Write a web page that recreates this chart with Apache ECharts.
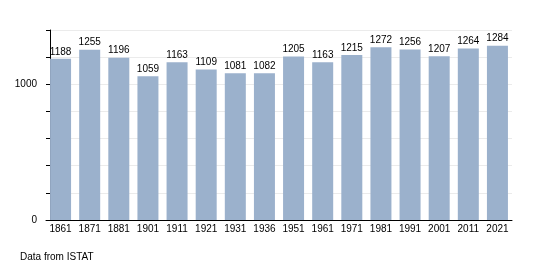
<!DOCTYPE html>
<html><head><meta charset="utf-8">
<script src="https://cdn.jsdelivr.net/npm/echarts@6/dist/echarts.min.js"></script>
<style>html,body{margin:0;padding:0;background:#fff}#c{width:540px;height:270px}</style>
</head><body><div id="c"></div>
<script>
const years = ['1861','1871','1881','1901','1911','1921','1931','1936','1951','1961','1971','1981','1991','2001','2011','2021'];
const population = [1188,1255,1196,1059,1163,1109,1081,1082,1205,1163,1215,1272,1256,1207,1264,1284];
const yLabels = [0, 1000];
const font = 'Liberation Sans, Arial, sans-serif';
const chart = echarts.init(document.getElementById('c'), null, {renderer:'canvas'});
chart.setOption({
  animation:false,
  grid:{left:46, top:30, width:466, height:190},
  xAxis:{type:'category', data:years, boundaryGap:true,
    axisLine:{show:true, lineStyle:{color:'#000', width:1}},
    axisTick:{show:false},
    axisLabel:{color:'#000', fontFamily:font, fontSize:10, margin:4, interval:0}},
  yAxis:{type:'value', min:0, max:1400, interval:200, offset:-4,
    axisLine:{show:true, lineStyle:{color:'#000', width:1}},
    axisTick:{show:true, length:4, lineStyle:{color:'#000'}},
    splitLine:{show:true, lineStyle:{color:'#ebebeb', width:1}},
    axisLabel:{color:'#000', fontFamily:font, fontSize:10, margin:13,
      formatter:v=> yLabels.includes(v) ? String(v) : ''}},
  series:[{type:'bar', data:population, barWidth:21,
    itemStyle:{color:'#9bb1cc'},
    label:{show:true, position:'top', distance:2, color:'#000', fontFamily:font, fontSize:10}}],
  graphic:[{type:'text', left:20, top:252, style:{text:'Data from ISTAT', fill:'#000', font:'10px '+font}}]
});
</script></body></html>
